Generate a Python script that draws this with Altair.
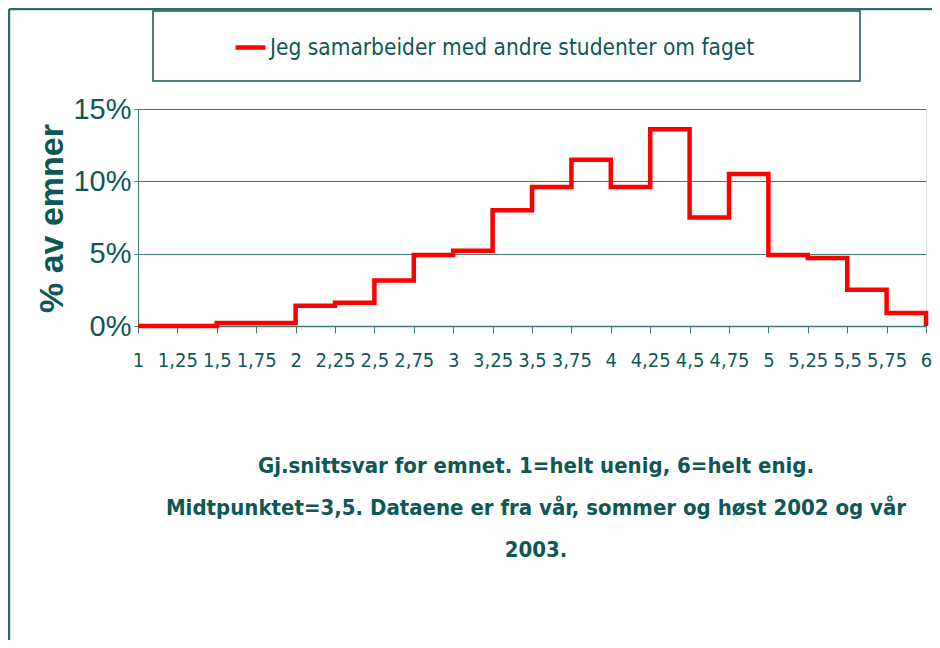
import altair as alt
import pandas as pd

# bin left edges (1 to 5.75 step 0.25) plus closing point at 6
edges = [1, 1.25, 1.5, 1.75, 2, 2.25, 2.5, 2.75, 3, 3.25, 3.5, 3.75,
         4, 4.25, 4.5, 4.75, 5, 5.25, 5.5, 5.75, 6]
share = [0.0, 0.0, 0.2, 0.2, 1.4, 1.6, 3.15, 4.9, 5.2, 8.0, 9.6, 11.5,
         9.6, 13.6, 7.5, 10.5, 4.9, 4.7, 2.5, 0.9, 0.0]
tick_values = edges
series_name = "Jeg samarbeider med andre studenter om faget"
y_title = "% av emner"
bottom_title = [
    "Gj.snittsvar for emnet. 1=helt uenig, 6=helt enig.",
    "Midtpunktet=3,5. Dataene er fra vår, sommer og høst 2002 og vår",
    "2003.",
]
title_rows = [0, 1, 2]

TEAL = "#0E5753"
GRID = "#3E7B78"
COND = "DejaVu Sans Condensed, Liberation Sans, sans-serif"

df = pd.DataFrame({"x": edges, "y": [v / 100 for v in share], "serie": series_name})
one = pd.DataFrame({"a": [0]})
tdf = pd.DataFrame({"text": bottom_title, "row": title_rows})

line = alt.Chart(df).mark_line(
    interpolate="step-after", strokeWidth=4.5, clip=False
).encode(
    x=alt.X("x:Q",
            scale=alt.Scale(domain=[1, 6], nice=False, zero=False),
            axis=alt.Axis(values=tick_values, title=None, grid=False,
                          labelExpr="replace(toString(datum.value), '.', ',')",
                          labelFont=COND, labelFontSize=20,
                          labelColor=TEAL, tickColor=GRID, domainColor=GRID,
                          tickSize=7, labelPadding=17, domainWidth=1.5,
                          labelFlush=False, labelOverlap=False)),
    y=alt.Y("y:Q",
            scale=alt.Scale(domain=[0, 0.15], nice=False),
            axis=alt.Axis(values=[0, 0.05, 0.10, 0.15], format=".0%",
                          title=y_title, titleFont="Liberation Sans",
                          titleFontSize=34, titleFontWeight="bold",
                          titleColor=TEAL, titleAngle=270,
                          titleX=-86, titleY=109, titleAlign="center",
                          titleBaseline="middle",
                          labelFont="Liberation Sans", labelFontSize=29,
                          labelColor=TEAL, tickColor=GRID, domainColor=GRID,
                          tickSize=4, labelPadding=3, gridColor=GRID,
                          gridWidth=1.2)),
    color=alt.Color("serie:N",
                    scale=alt.Scale(domain=[series_name], range=["#FF0000"]),
                    legend=alt.Legend(title=None, orient="none",
                                      legendX=95, legendY=-79,
                                      symbolType="stroke", symbolSize=900,
                                      symbolStrokeWidth=4.5,
                                      labelFont=COND, labelOffset=2,
                                      labelFontSize=22.5, labelColor=TEAL,
                                      labelLimit=800)),
)

legend_box = alt.Chart(one).mark_rect(
    fill="white", stroke=TEAL, strokeWidth=1.5, clip=False
).encode(x=alt.value(15), x2=alt.value(722), y=alt.value(-98), y2=alt.value(-28))

frame_top = alt.Chart(one).mark_rule(color="#2E6B68", strokeWidth=2.5, clip=False).encode(
    x=alt.value(-129), x2=alt.value(820), y=alt.value(-100))
frame_left = alt.Chart(one).mark_rule(color="#2E6B68", strokeWidth=2.5, clip=False).encode(
    x=alt.value(-129), y=alt.value(-100), y2=alt.value(560))

title_text = alt.Chart(tdf).mark_text(
    font=COND, fontSize=22, fontWeight="bold", color=TEAL,
    align="center", baseline="middle", clip=False
).encode(
    x=alt.value(398),
    y=alt.Y("row:Q", scale=alt.Scale(domain=[0, 2], range=[357, 441]), axis=None),
    text="text:N",
)

chart = alt.layer(frame_top, frame_left, legend_box, line, title_text).resolve_scale(
    y="independent"
).properties(
    width=788, height=217,
    padding={"left": 130, "top": 101, "right": 6, "bottom": 314},
    autosize=alt.AutoSizeParams(type="none"),
).configure_view(stroke="#8C8C8C", strokeWidth=2).configure(background="white")

chart.save("out.html", embed_options={"renderer": "svg", "actions": False})
